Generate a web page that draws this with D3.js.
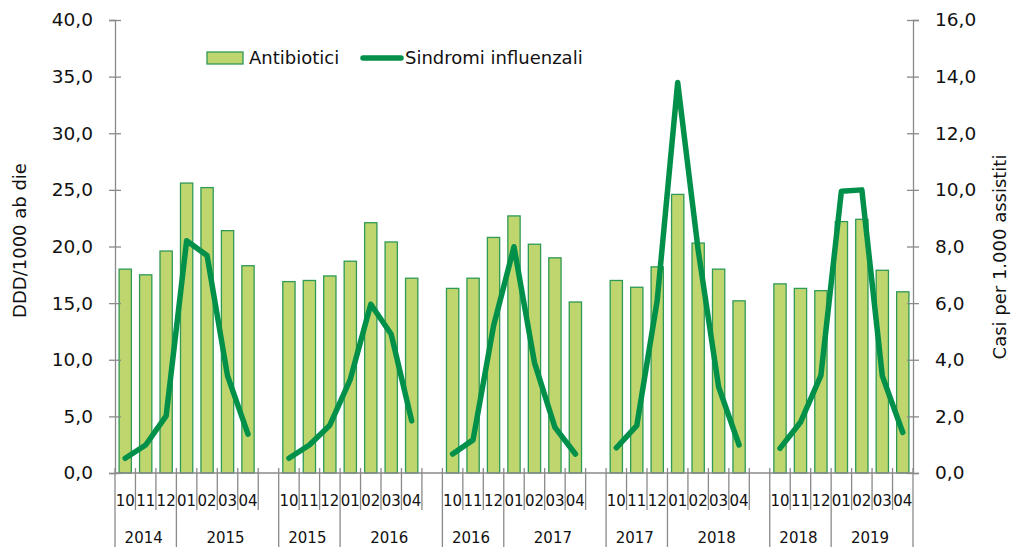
<!DOCTYPE html>
<html>
<head>
<meta charset="utf-8">
<script src="https://cdn.jsdelivr.net/npm/d3@7"></script>
<style>
  body { margin: 0; background: #fff; }
  text { font-family: "DejaVu Sans", sans-serif; fill: #111; }
</style>
</head>
<body>
<svg id="chart" width="1011" height="547"></svg>
<script>
// mesi di ogni stagione (ottobre -> aprile)
const months = ["10", "11", "12", "01", "02", "03", "04"];
// anni di inizio / fine stagione
const seasonStart = ["2014", "2015", "2016", "2017", "2018"];
const seasonEnd = ["2015", "2016", "2017", "2018", "2019"];
// DDD/1000 ab die
const antibiotici = [
  [18.0, 17.5, 19.6, 25.6, 25.2, 21.4, 18.3],
  [16.9, 17.0, 17.4, 18.7, 22.1, 20.4, 17.2],
  [16.3, 17.2, 20.8, 22.7, 20.2, 19.0, 15.1],
  [17.0, 16.4, 18.2, 24.6, 20.3, 18.0, 15.2],
  [16.7, 16.3, 16.1, 22.2, 22.4, 17.9, 16.0]
];
// casi per 1.000 assistiti
const sindromi = [
  [0.52, 0.99, 2.02, 8.20, 7.68, 3.43, 1.37],
  [0.52, 0.99, 1.69, 3.31, 5.96, 4.90, 1.84],
  [0.67, 1.17, 5.19, 7.99, 3.90, 1.61, 0.67],
  [0.89, 1.67, 6.10, 13.79, 7.88, 3.04, 0.99],
  [0.87, 1.79, 3.45, 9.95, 10.00, 3.43, 1.43]
];
const leftTicks = [0, 5, 10, 15, 20, 25, 30, 35, 40];
const rightTicks = [0, 2, 4, 6, 8, 10, 12, 14, 16];

// righe della tabella: 7 mesi per stagione + uno slot vuoto tra le stagioni
const rows = [];
seasonStart.forEach((s, i) => {
  months.forEach((m, j) => {
    rows.push({ key: i + "-" + m, season: i, month: m, ab: antibiotici[i][j], si: sindromi[i][j] });
  });
  if (i < seasonStart.length - 1) rows.push({ key: "gap" + i, season: i, month: "", ab: null, si: null });
});

const svg = d3.select("#chart");
const pLeft = 115, pRight = 913, pTop = 20, pBottom = 473;
const fmt = d => d.toFixed(1).replace(".", ",");
const axisColor = "#8a8a8a";

const x = d3.scaleBand().domain(rows.map(d => d.key)).range([pLeft, pRight]).padding(0);
const y = d3.scaleLinear().domain([0, 40]).range([pBottom, pTop]);
const y2 = d3.scaleLinear().domain([0, 16]).range([pBottom, pTop]);
const bw = x.bandwidth();

// barre
svg.append("g")
  .selectAll("rect")
  .data(rows.filter(d => d.ab != null))
  .join("rect")
  .attr("x", d => x(d.key) + bw * 0.2)
  .attr("width", bw * 0.6)
  .attr("y", d => y(d.ab))
  .attr("height", d => y(0) - y(d.ab))
  .attr("fill", "#bfd66e")
  .attr("stroke", "#2e9a56")
  .attr("stroke-width", 1.3);

// asse sinistro
const gl = svg.append("g")
  .attr("transform", `translate(${pLeft},0)`)
  .call(d3.axisLeft(y).tickValues(leftTicks).tickFormat(fmt).tickSize(6).tickPadding(16));
gl.selectAll(".tick line").attr("x1", 6);
// asse destro
const gr = svg.append("g")
  .attr("transform", `translate(${pRight},0)`)
  .call(d3.axisRight(y2).tickValues(rightTicks).tickFormat(fmt).tickSize(6).tickPadding(16));
gr.selectAll(".tick line").attr("x1", -6);
[gl, gr].forEach(g => {
  g.select(".domain").attr("stroke", axisColor).attr("stroke-width", 1.3);
  g.selectAll(".tick line").attr("stroke", axisColor).attr("stroke-width", 1.3);
  g.selectAll(".tick text").style("font-size", "18.5px").style("font-family", "DejaVu Sans").attr("fill", "#111");
});

// asse delle categorie (due livelli)
const gx = svg.append("g");
gx.append("line")
  .attr("x1", pLeft).attr("x2", pRight).attr("y1", pBottom).attr("y2", pBottom)
  .attr("stroke", axisColor).attr("stroke-width", 1.3);
const bounds = d3.range(rows.length + 1).map(i => i === rows.length ? pRight : x(rows[i].key));
const longIdx = new Set();
rows.forEach((d, i) => {
  if (d.month === "10" || d.month === "01") longIdx.add(i);
});
longIdx.add(rows.length);
gx.selectAll("line.tk")
  .data(bounds)
  .join("line")
  .attr("class", "tk")
  .attr("x1", d => d).attr("x2", d => d)
  .attr("y1", pBottom - 5)
  .attr("y2", (d, i) => longIdx.has(i) ? 547 : 510)
  .attr("stroke", axisColor).attr("stroke-width", 1.3);
gx.selectAll("text.month")
  .data(rows.filter(d => d.month))
  .join("text")
  .attr("class", "month")
  .attr("x", d => x(d.key) + bw / 2)
  .attr("y", 506)
  .attr("text-anchor", "middle")
  .style("font-size", "15px")
  .text(d => d.month);
// etichette anno
const yearLabels = [];
seasonStart.forEach((s, i) => {
  const first = rows.findIndex(d => d.key === i + "-10");
  const jan = rows.findIndex(d => d.key === i + "-01");
  const end = i < seasonStart.length - 1 ? rows.findIndex(d => d.key === (i + 1) + "-10") : rows.length;
  yearLabels.push({ t: s, a: bounds[first], b: bounds[jan] });
  yearLabels.push({ t: seasonEnd[i], a: bounds[jan], b: bounds[end] });
});
gx.selectAll("text.year")
  .data(yearLabels)
  .join("text")
  .attr("class", "year")
  .attr("x", d => (d.a + d.b) / 2 - 2)
  .attr("y", 543)
  .attr("text-anchor", "middle")
  .style("font-size", "15px")
  .text(d => d.t);

// linea sindromi influenzali (interrotta tra le stagioni)
const line = d3.line()
  .defined(d => d.si != null)
  .x(d => x(d.key) + bw / 2)
  .y(d => y2(d.si));
svg.append("path")
  .datum(rows)
  .attr("d", line)
  .attr("fill", "none")
  .attr("stroke", "#00904a")
  .attr("stroke-width", 5.5)
  .attr("stroke-linejoin", "round")
  .attr("stroke-linecap", "round");

// titoli degli assi
svg.append("text")
  .attr("transform", `translate(26,${(pTop + pBottom) / 2 - 6}) rotate(-90)`)
  .attr("text-anchor", "middle")
  .style("font-size", "18px")
  .text("DDD/1000 ab die");
svg.append("text")
  .attr("transform", `translate(1006,257) rotate(-90)`)
  .attr("text-anchor", "middle")
  .style("font-size", "18px")
  .text("Casi per 1.000 assistiti");

// legenda
const lg = svg.append("g");
lg.append("rect").attr("x", 207).attr("y", 52).attr("width", 36).attr("height", 12)
  .attr("fill", "#bfd66e").attr("stroke", "#2e9a56").attr("stroke-width", 1.3);
lg.append("text").attr("x", 249).attr("y", 64).style("font-size", "18px").text("Antibiotici");
lg.append("line").attr("x1", 363).attr("x2", 401).attr("y1", 58).attr("y2", 58)
  .attr("stroke", "#00904a").attr("stroke-width", 5.5).attr("stroke-linecap", "round");
lg.append("text").attr("x", 405).attr("y", 64).style("font-size", "18px").text("Sindromi influenzali");
</script>
</body>
</html>
